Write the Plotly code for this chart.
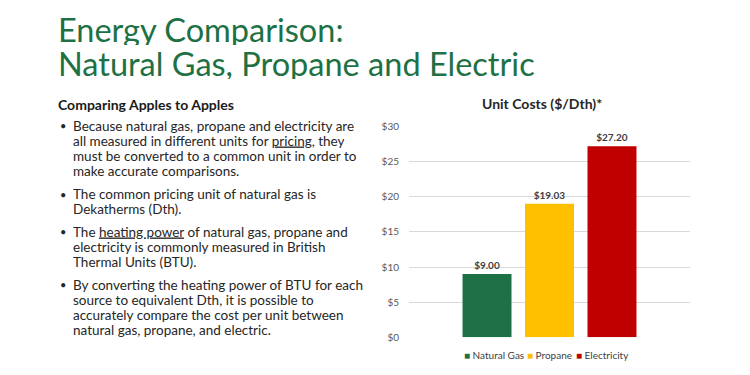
import plotly.graph_objects as go

W, H = 750, 375

# ---- data ----
series = ["Natural Gas", "Propane", "Electricity"]
unit_costs = [9.00, 19.03, 27.20]
colors = ["#1E7145", "#FFC000", "#C00000"]
group_label = ["Unit Costs"]
y_ticks = [0, 5, 10, 15, 20, 25, 30]
y_tick_text = ["$0", "$5", "$10", "$15", "$20", "$25", "$30"]

title_lines = ["Energy Comparison:", "Natural Gas, Propane and Electric"]
subheading = "Comparing Apples to Apples"
bullets = [
    ["Because natural gas, propane and electricity are",
     "all measured in different units for <u>pricing</u>, they",
     "must be converted to a common unit in order to",
     "make accurate comparisons."],
    ["The common pricing unit of natural gas is",
     "Dekatherms (Dth)."],
    ["The <u>heating power</u> of natural gas, propane and",
     "electricity is commonly measured in British",
     "Thermal Units (BTU)."],
    ["By converting the heating power of BTU for each",
     "source to equivalent Dth, it is possible to",
     "accurately compare the cost per unit between",
     "natural gas, propane, and electric."],
]
chart_title = "Unit Costs ($/Dth)*"

FONT = "Lato"

def px(x):
    return x / W

def py(y):
    return 1 - y / H

fig = go.Figure()
for name, val, col in zip(series, unit_costs, colors):
    fig.add_trace(go.Bar(
        x=group_label, y=[val], name=name, marker=dict(color=col, line=dict(width=0)),
        text=[val], texttemplate="<b>$%{y:.2f}</b>", textposition="outside",
        textfont=dict(family=FONT, size=10, color="#404040"), cliponaxis=False,
        showlegend=False,
    ))

annotations = []
# title
for i, line in enumerate(title_lines):
    annotations.append(dict(text=line, x=px(56), y=py(23 + i * 35), xref="paper", yref="paper",
                            xanchor="left", yanchor="middle", showarrow=False, height=32,
                            font=dict(family=FONT, size=32.5, color="#1E7145")))
# subheading
annotations.append(dict(text="<b>" + subheading + "</b>", x=px(56), y=py(100), xref="paper", yref="paper",
                        xanchor="left", yanchor="middle", showarrow=False, height=16,
                        font=dict(family=FONT, size=14, color="#1a1a1a")))
# bullets
y = 122.7
for para in bullets:
    for j, line in enumerate(para):
        if j == 0:
            annotations.append(dict(text="•", x=px(58), y=py(y), xref="paper", yref="paper",
                                    xanchor="left", yanchor="middle", showarrow=False, height=14,
                                    font=dict(family=FONT, size=11, color="#262626")))
        annotations.append(dict(text=line, x=px(71), y=py(y), xref="paper", yref="paper",
                                xanchor="left", yanchor="middle", showarrow=False, height=15,
                                font=dict(family=FONT, size=13.5, color="#262626")))
        y += 15.7
    y += 7.8

# chart title
annotations.append(dict(text="<b>" + chart_title + "</b>", x=px(542), y=py(100), xref="paper", yref="paper",
                        xanchor="center", yanchor="middle", showarrow=False,
                        font=dict(family=FONT, size=14, color="#262626")))

# legend (manual)
leg_x = [463, 526, 575]
for lx, name, col in zip(leg_x, series, colors):
    annotations.append(dict(text=f"<span style='color:{col}'>■</span> {name}", x=px(lx - 1), y=py(361),
                            xref="paper", yref="paper", xanchor="left", yanchor="middle", showarrow=False,
                            font=dict(family=FONT, size=10, color="#404040")))

fig.update_layout(
    width=W, height=H,
    margin=dict(l=0, r=0, t=0, b=0),
    paper_bgcolor="white", plot_bgcolor="white",
    barmode="group", bargap=0.333, bargroupgap=0.216,
    annotations=annotations,
    xaxis=dict(domain=[px(409), px(690)], range=[-0.5, 0.5], showticklabels=False, showgrid=False,
               zeroline=False, showline=False, ticks=""),
    yaxis=dict(domain=[py(342), py(124)], range=[0, 30], tickmode="array", tickvals=y_ticks,
               ticktext=y_tick_text,
               showgrid=True, gridcolor="#D9D9D9", gridwidth=1, zeroline=False, showline=False,
               ticks="", ticklabelstandoff=9,
               tickfont=dict(family=FONT, size=10, color="#595959")),
    font=dict(family=FONT),
)

fig.write_html("out.html", config={"displayModeBar": False},
               post_script="document.body.style.margin='0px';")
